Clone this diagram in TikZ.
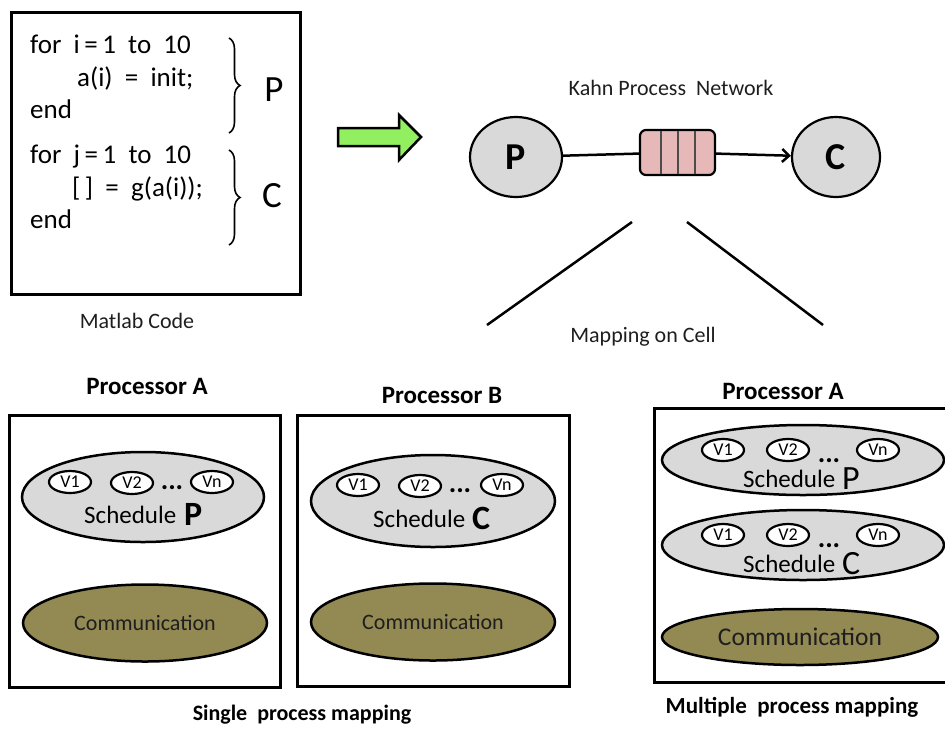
\documentclass[tikz,border=0pt]{standalone}
\usepackage{fontspec}
\setmainfont{Carlito}
\usetikzlibrary{shapes.geometric,decorations.pathreplacing,arrows.meta}
\definecolor{cellgray}{RGB}{217,217,217}
\definecolor{commolive}{RGB}{147,137,83}
\definecolor{fifopink}{RGB}{230,185,184}
\definecolor{arrowgreen}{RGB}{146,240,96}
\definecolor{textdark}{RGB}{30,30,30}
\newcommand{\fs}[1]{\fontsize{#1}{#1}\selectfont}
\tikzset{
  frame/.style={draw=black, line width=3pt},
  sched/.style={ellipse, draw=black, line width=2.5pt, fill=cellgray, inner sep=0pt},
  comm/.style={ellipse, draw=black, line width=2.5pt, fill=commolive, inner sep=0pt,
               font=\fs{22}, text=textdark},
  var/.style={ellipse, draw=black, line width=2.2pt, fill=white, inner sep=0pt,
              minimum width=42pt, minimum height=22pt, font=\fs{18}},
  dots/.style={anchor=base, font=\bfseries\fs{28}, inner sep=0pt},
  code/.style={anchor=base west, font=\fs{27}, inner sep=0pt},
  caption/.style={font=\fs{22}, text=textdark, inner sep=0pt},
  proc/.style={font=\bfseries\fs{25}, inner sep=0pt},
  kpn/.style={ellipse, draw=black, line width=2.2pt, fill=cellgray, inner sep=0pt,
              minimum width=92pt, minimum height=80pt, font=\bfseries\fs{38}},
  schedtext/.style={anchor=base west, font=\fs{25}, inner sep=0pt},
  bigletter/.style={anchor=base west, font=\fs{34}, inner sep=0pt},
  link/.style={line width=2.5pt},
}
\begin{document}
\begin{tikzpicture}[x=1pt, y=-1pt]
\useasboundingbox (0,0) rectangle (945,729);

% ---- source code ----
\node[frame, minimum width=289pt, minimum height=282pt, inner sep=0pt] (codebox) at (155.5,153) {};
\node[code] (l1) at (30,53)  {for\ \ i\,=\,1\ \ to\ \ 10};
\node[code] (l2) at (77,86)  {a(i)\ \ =\ \ init;};
\node[code] (l3) at (30,118) {end};
\node[code] (l4) at (30,163) {for\ \ j\,=\,1\ \ to\ \ 10};
\node[code] (l5) at (72,196) {[\,]\ \ =\ \ g(a(i));};
\node[code] (l6) at (30,228) {end};
\draw[decorate, decoration={brace, amplitude=11pt}, line width=1.6pt] (229,38) -- (229,133);
\draw[decorate, decoration={brace, amplitude=11pt}, line width=1.6pt] (229,150) -- (229,245);
\node[font=\fs{37}, inner sep=0pt] (bp) at (274,90) {P};
\node[font=\fs{37}, inner sep=0pt] (bc) at (272,196) {C};
\node[caption] (matlab) at (137,321) {Matlab Code};

% ---- translation arrow ----
\draw[fill=arrowgreen, line width=2.5pt, line join=miter]
  (338,128) -- (399,128) -- (399,115) -- (421,137) -- (399,160) -- (399,146) -- (338,146) -- cycle;

% ---- Kahn process network ----
\node[caption] (kpntitle) at (671,88) {Kahn Process\ \ Network};
\node[kpn] (P) at (516,157) {P};
\node[kpn, minimum width=88pt] (C) at (836,157) {C};
\node[draw=black, line width=2.2pt, fill=fifopink, rounded corners=6pt,
      minimum width=75pt, minimum height=45pt, inner sep=0pt] (fifo) at (677.5,152.5) {};
\foreach \xx in {661,678,695}
  \draw[line width=1.4pt, black!70] (\xx,131) -- (\xx,174);
\draw[link] (P) -- (fifo);
\draw[link, -{Straight Barb[length=7pt, width=13pt]}] (fifo) -- (C);

\coordinate (sl1) at (632,222);
\coordinate (sl2) at (487,325);
\coordinate (sr1) at (687,222);
\coordinate (sr2) at (823,325);
\draw[link] (sl1) -- (sl2);
\draw[link] (sr1) -- (sr2);
\node[caption] (mapcell) at (643,337) {Mapping on Cell};

% ---- single process mapping: processor A ----
\node[proc] (pa) at (147,386) {Processor A};
\node[frame, minimum width=271pt, minimum height=272pt, inner sep=0pt] (boxA) at (144.5,551) {};
\node[sched, minimum width=242pt, minimum height=90pt] (sA) at (143,497) {};
\node[var] (a1) at (70,482) {V1};
\node[var] (a2) at (132,483) {V2};
\node[var] (an) at (212,482) {Vn};
\node[dots] (ad) at (172,489) {...};
\node[schedtext] (sAt) at (84,523) {Schedule};
\node[bigletter] (sAl) at (184,525) {\bfseries P};
\node[comm, minimum width=244pt, minimum height=77pt] (cA) at (145,623) {Communication};

% ---- single process mapping: processor B ----
\node[proc] (pb) at (442,395) {Processor B};
\node[frame, minimum width=272pt, minimum height=271pt, inner sep=0pt] (boxB) at (433,550.5) {};
\node[sched, minimum width=244pt, minimum height=92pt] (sB) at (433,501) {};
\node[var] (b1) at (358,485) {V1};
\node[var] (b2) at (420,486) {V2};
\node[var] (bn) at (502,485) {Vn};
\node[dots] (bd) at (460,492) {...};
\node[schedtext] (sBt) at (373,527) {Schedule};
\node[bigletter] (sBl) at (472,529) {\bfseries C};
\node[comm, minimum width=244pt, minimum height=77pt] (cB) at (433,622) {Communication};

\node[proc, font=\bfseries\fs{22}] (single) at (302,715) {Single\ \ process mapping};

% ---- multiple process mapping: processor A ----
\node[proc] (pm) at (783,391) {Processor A};
\coordinate (mtr) at (945,408);
\coordinate (mbr) at (945,682);
\draw[frame] (mtr) -- (654,408) -- (654,682) -- (mbr);
\node[sched, minimum width=282pt, minimum height=70pt] (sP) at (803,460) {};
\node[var] (p1) at (723,450) {V1};
\node[var] (p2) at (788,450) {V2};
\node[var] (pn) at (878,450) {Vn};
\node[dots] (pd) at (829,462) {...};
\node[schedtext] (sPt) at (743,487) {Schedule};
\node[bigletter] (sPl) at (842,489) {P};
\node[sched, minimum width=282pt, minimum height=70pt] (sC) at (803,545) {};
\node[var] (c1) at (723,535) {V1};
\node[var] (c2) at (788,535) {V2};
\node[var] (cn) at (878,535) {Vn};
\node[dots] (cd) at (829,547) {...};
\node[schedtext] (sCt) at (743,572) {Schedule};
\node[bigletter] (sCl) at (842,574) {C};
\node[comm, minimum width=276pt, minimum height=56pt, font=\fs{25.5}] (cM) at (800,637) {Communication};

\node[proc, font=\bfseries\fs{23}] (multi) at (792,707) {Multiple\ \ process mapping};
\end{tikzpicture}
\end{document}
